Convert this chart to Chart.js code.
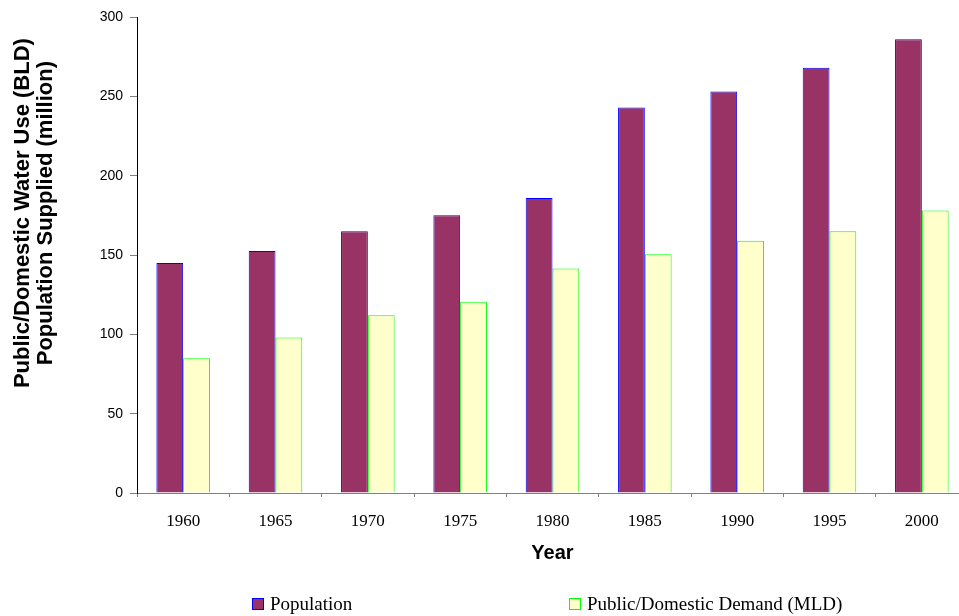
<!DOCTYPE html>
<html>
<head>
<meta charset="utf-8">
<script src="https://cdn.jsdelivr.net/npm/chart.js@4/dist/chart.umd.min.js"></script>
<style>
  html, body { margin: 0; padding: 0; background: #fff; overflow: hidden; }
  #wrap { width: 975px; height: 616px; position: relative; }
</style>
</head>
<body>
<div id="wrap"><canvas id="water_chart"></canvas></div>
<script>
// ── data ─────────────────────────────────────────────────
const years        = ["1960", "1965", "1970", "1975", "1980", "1985", "1990", "1995", "2000"];
const population   = [145, 152.5, 165, 175, 186, 243, 253, 268, 286];
const publicDemand = [85, 98, 112, 120.5, 141.5, 150.5, 159, 165, 178];
const yTicks       = [0, 50, 100, 150, 200, 250, 300];

const SERIF = "'Liberation Serif', 'Times New Roman', serif";
const SANS  = "'Liberation Sans', Arial, sans-serif";

// ── two-line rotated y title ────────────────────────────
const yTitlePlugin = {
  id: "yTitle",
  afterDraw(chart) {
    const c = chart.ctx;
    const lines = ["Public/Domestic Water Use (BLD)", "Population Supplied (million)"];
    const midY = chart.chartArea.top + (chart.chartArea.bottom - chart.chartArea.top) * 0.412;
    c.save();
    c.font = `bold 22px ${SANS}`;
    c.fillStyle = "#000";
    c.textAlign = "center";
    c.textBaseline = "alphabetic";
    lines.forEach((txt, i) => {
      c.save();
      c.translate(29 + i * 23, midY);
      c.rotate(-Math.PI / 2);
      c.fillText(txt, 0, 0);
      c.restore();
    });
    c.restore();
  },
};

// ── legend (wide spacing, drawn by hand) ────────────────
const legendPlugin = {
  id: "wideLegend",
  afterDraw(chart) {
    const c = chart.ctx;
    const starts = [252, 569];
    const cy = 604;
    c.save();
    c.font = `19px ${SERIF}`;
    c.textBaseline = "middle";
    c.textAlign = "left";
    chart.data.datasets.forEach((ds, i) => {
      const x = starts[i];
      c.fillStyle = ds.backgroundColor;
      c.fillRect(x, cy - 6, 12, 12);
      c.strokeStyle = ds.borderColor;
      c.lineWidth = 1;
      c.strokeRect(x + 0.5, cy - 5.5, 11, 11);
      c.fillStyle = "#000";
      c.fillText(ds.label, x + 18, cy + 1);
    });
    c.restore();
  },
};

const ctx = document.getElementById("water_chart").getContext("2d");

window.chart_water = new Chart(ctx, {
  type: "bar",
  data: {
    labels: years,
    datasets: [
      {
        label: "Population",
        data: population,
        backgroundColor: "#993366",
        borderColor: "#0000FF",
        borderWidth: 1,
      },
      {
        label: "Public/Domestic Demand (MLD)",
        data: publicDemand,
        backgroundColor: "#FFFFCC",
        borderColor: "#00FF00",
        borderWidth: 1,
      },
    ],
  },
  options: {
    responsive: true,
    maintainAspectRatio: false,
    animation: false,
    layout: { padding: { top: 17, right: 7, left: 0, bottom: 0 } },
    datasets: { bar: { categoryPercentage: 0.58, barPercentage: 1 } },
    plugins: {
      legend: { display: false },
      tooltip: { enabled: false },
    },
    scales: {
      x: {
        afterFit: (scale) => { scale.height = 123; },
        grid: { drawOnChartArea: false, drawTicks: true, tickLength: 4, color: "#808080", offset: true },
        border: { color: "#808080", width: 1 },
        ticks: { color: "#000", padding: 14, font: { family: SERIF, size: 17 } },
        title: {
          display: true,
          text: "Year",
          color: "#000",
          font: { family: SANS, size: 20, weight: "bold" },
          padding: { top: 0, bottom: 51 },
        },
      },
      y: {
        min: 0,
        max: 300,
        afterFit: (scale) => { scale.width = 137; },
        afterBuildTicks: (scale) => { scale.ticks = yTicks.map((v) => ({ value: v })); },
        grid: { drawOnChartArea: false, drawTicks: true, tickLength: 7, color: "#808080" },
        border: { color: "#000", width: 1 },
        ticks: { color: "#000", padding: 7, font: { family: SANS, size: 14 } },
      },
    },
  },
  plugins: [yTitlePlugin, legendPlugin],
});
</script>
</body>
</html>
